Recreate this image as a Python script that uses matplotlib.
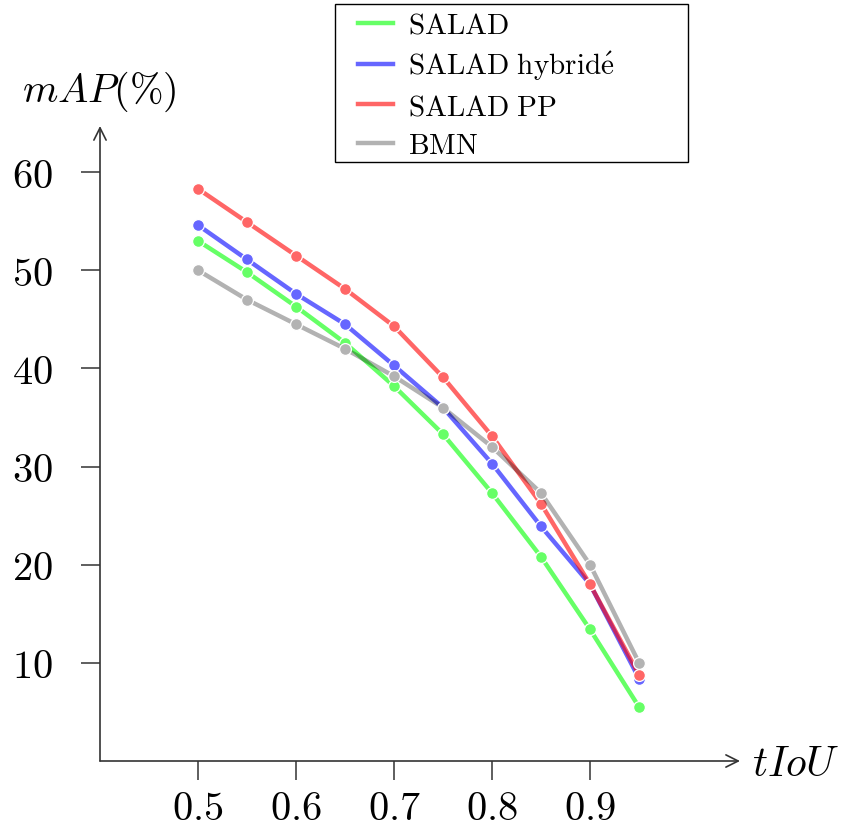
import numpy as np
import matplotlib
matplotlib.use("Agg")
import matplotlib.pyplot as plt
from matplotlib.colors import to_rgb
from matplotlib.patches import Rectangle

plt.rcParams['mathtext.fontset'] = 'cm'
plt.rcParams['font.family'] = ['DejaVu Serif']

# tIoU thresholds
tiou = [0.5, 0.55, 0.6, 0.65, 0.7, 0.75, 0.8, 0.85, 0.9, 0.95]

# mAP (%) per method
salad = [53.0, 49.8, 46.3, 42.6, 38.2, 33.3, 27.3, 20.8, 13.4, 5.5]
salad_hybride = [54.6, 51.1, 47.6, 44.5, 40.3, 36.0, 30.3, 23.9, 18.0, 8.4]
salad_pp = [58.3, 54.9, 51.5, 48.1, 44.3, 39.1, 33.1, 26.2, 18.0, 8.8]
bmn = [50.0, 47.0, 44.5, 42.0, 39.2, 36.0, 32.0, 27.3, 20.0, 10.0]

labels = [r'$\mathrm{SALAD}$', r'$\mathrm{SALAD\ hybrid\acute{e}}$',
          r'$\mathrm{SALAD\ PP}$', r'$\mathrm{BMN}$']
series = [salad, salad_hybride, salad_pp, bmn]
colors = ['#00ff00', '#0000ff', '#ff0000', '#000000']
alphas = [0.6, 0.6, 0.6, 0.3]

xticks = [0.5, 0.6, 0.7, 0.8, 0.9]
yticks = [10, 20, 30, 40, 50, 60]

W, H = 846, 829


def tint(c, a):
    # colour as it looks on white at opacity a
    r, g, b = to_rgb(c)
    return (1 - a + a * r, 1 - a + a * g, 1 - a + a * b)


fig = plt.figure(figsize=(W / 100, H / 100), dpi=100)
ax = fig.add_axes([100 / W, 1 - 762 / H, 640 / W, 635 / H])

handles = []
for vals, lab, col, a in zip(series, labels, colors, alphas):
    h, = ax.plot(tiou, vals, color=col, alpha=a, lw=3.2, label=lab)
    ax.plot(tiou, vals, ls='none', marker='o', markersize=8.5,
            markerfacecolor=tint(col, a), markeredgecolor='white',
            markeredgewidth=0.9)
    handles.append(h)

ax.set_xlim(0.4, 1.053)
ax.set_ylim(0, 64.7)

for s in ax.spines.values():
    s.set_visible(False)

axis_col = '#333333'
# axis arrows
ax.annotate('', xy=(1, 0), xytext=(0, 0), xycoords='axes fraction',
            arrowprops=dict(arrowstyle='->', color=axis_col, lw=1.2,
                            shrinkA=0, shrinkB=0, mutation_scale=22))
ax.annotate('', xy=(0, 1), xytext=(0, 0), xycoords='axes fraction',
            arrowprops=dict(arrowstyle='->', color=axis_col, lw=1.2,
                            shrinkA=0, shrinkB=0, mutation_scale=22))

ax.set_xticks(xticks, labels=[f'${t}$' for t in xticks])
ax.set_yticks(yticks, labels=[f'${t}$' for t in yticks])
ax.tick_params(axis='x', direction='out', length=14, width=1.1,
               color=axis_col, labelsize=29, pad=7)
ax.tick_params(axis='y', direction='out', length=14, width=1.1,
               color=axis_col, labelsize=29, pad=20)

fig.text(99 / W, 1 - 92 / H, r'$mAP(\%)$', fontsize=29,
         ha='center', va='center')
fig.text(752 / W, 1 - 764 / H, r'$tIoU$', fontsize=30,
         ha='left', va='center')

# legend frame drawn separately so the padding matches the reference
fig.patches.append(Rectangle((335 / W, 1 - 163 / H), 353 / W, 158 / H,
                             transform=fig.transFigure, facecolor='white',
                             edgecolor='black', lw=1.0, zorder=3))
leg = fig.legend(handles=handles, loc='upper left',
                 bbox_to_anchor=(358 / W, 1 - 12 / H),
                 fontsize=21, frameon=False,
                 handlelength=1.2, handletextpad=0.5, borderpad=0,
                 borderaxespad=0, labelspacing=0.35)
leg.set_zorder(4)

fig.savefig('out.png', dpi=100)
